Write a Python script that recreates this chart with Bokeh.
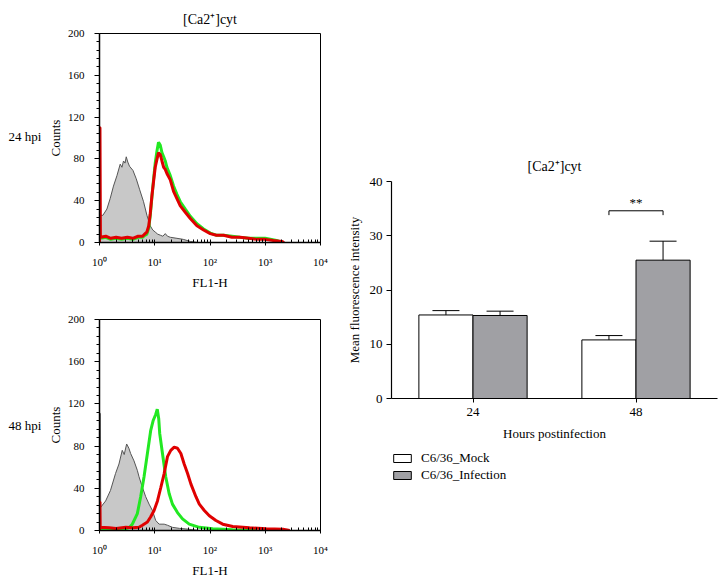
from bokeh.plotting import figure
from bokeh.models import (FixedTicker, Whisker, ColumnDataSource, FactorRange,
                          Legend, LegendItem, TeeHead, Range1d)
from bokeh.transform import dodge
from bokeh.layouts import row, column
from bokeh.embed import file_html
from bokeh.resources import INLINE
from bokeh.core.properties import value

# ---------------- data ----------------
# Histogram 24 hpi (FL1-H value, counts)
gray24_x = [1.0, 1.15, 1.36, 1.56, 1.79, 2.07, 2.37, 2.55, 2.72, 2.9, 3.05, 3.25, 3.49, 4.03, 4.62,
            5.3, 6.27, 7.22, 8.28, 9.2, 10.2, 11.3, 12.6, 14.0, 15.5, 17.0, 19.1, 25.2, 32.8, 44.0, 60.0]
gray24_y = [26, 26, 32, 42, 54, 64, 75, 72, 78, 76, 82, 77, 73, 69, 61,
            51, 39, 26, 16, 12, 10, 8, 7, 6, 8.5, 6, 5, 4, 3, 1, 0]

green24_x = [1.03, 1.3, 1.6, 2.0, 2.5, 3.2, 4.0, 5.0, 6.0, 6.7, 7.2, 7.8, 8.3, 8.9, 9.5, 10.2, 11.0,
             11.7, 12.6, 13.5, 14.5, 15.5, 16.6, 19.1, 21.9, 25.2, 29.0, 35.7, 44.0, 58.0, 76.5, 101,
             130, 176, 250, 350, 500, 700, 1000, 1300, 1600, 2000]
green24_y = [4, 5, 3, 4, 3, 4, 3, 5, 5, 7, 8, 14, 26, 44, 60, 76, 88,
             96, 93, 86, 82, 78, 72, 64, 54, 46, 39, 32, 25, 18, 13, 9,
             7, 7, 6, 5, 4, 4, 4, 3, 2, 0]

red24_x = [1.0, 1.0, 1.02, 1.04, 1.3, 1.6, 2.0, 2.5, 3.2, 4.0, 5.0, 6.0, 6.7, 7.2, 7.8, 8.3, 8.9, 9.5,
           10.2, 11.0, 11.7, 12.6, 13.5, 14.5, 15.5, 16.6, 19.1, 21.9, 25.2, 29.0, 35.7, 44.0, 58.0,
           76.5, 101, 130, 176, 250, 350, 500, 700, 1000, 1400, 2000, 2200]
red24_y = [0, 110, 110, 5, 6, 4, 5, 4, 5, 4, 6, 6, 8.5, 10, 16, 28, 45, 58,
           72, 80, 86, 84, 78, 72, 70, 66, 60, 49, 42, 35, 29, 23, 16,
           12, 8.5, 7, 7, 5, 5, 4, 3, 3, 2, 1, 0]

# Histogram 48 hpi
gray48_x = [1.0, 1.02, 1.035, 1.05, 1.29, 1.58, 1.95, 2.25, 2.58, 2.8, 3.1, 3.4, 3.66, 4.21, 4.84,
            5.19, 5.97, 6.86, 7.89, 9.07, 10.4, 12.0, 14.8, 17.0, 20.9, 28.0, 36.6, 64.0]
gray48_y = [111, 111, 111, 22, 28, 38, 54, 63, 76, 72, 82, 78, 73, 66, 57,
            51, 41, 32, 25, 19, 9.5, 6, 6, 5, 3, 2, 1.5, 0]

green48_x = [1.0, 1.03, 1.5, 2.0, 2.97, 3.5, 3.93, 4.84, 5.56, 6.4, 7.36, 8.46, 9.33, 10.4, 11.1,
             11.8, 12.3, 13.8, 15.8, 18.2, 20.9, 25.8, 31.8, 42.1, 64.0, 112, 258, 597, 700]
green48_y = [0, 2, 1.5, 2, 1.6, 3, 6, 16, 32, 51, 73, 95, 104, 110, 115,
             106, 92, 73, 51, 35, 25, 17, 11, 6, 3, 1.6, 0.6, 0.5, 0]

red48_x = [1.0, 1.0, 1.02, 1.03, 1.5, 2.0, 3.0, 4.0, 5.19, 5.97, 7.36, 8.46, 9.72, 11.2, 12.9, 14.8,
           17.0, 19.5, 22.5, 25.8, 29.7, 34.1, 39.3, 45.2, 55.6, 64.0, 78.9, 97.2, 128, 170, 258,
           519, 1043, 2095, 2770]
red48_y = [0, 27, 27, 3, 2.5, 2, 3, 2.5, 3, 5, 8, 13, 19, 28, 41, 54,
           70, 76, 79, 78, 73, 63, 54, 44, 32, 25, 19, 14, 9.5, 6, 3.8,
           2.5, 1.6, 1.3, 0]

row_labels = ["24 hpi", "48 hpi"]
row_label_counts = [101, 100]

# Bar chart
hours = ["24", "48"]
mock_mean = [15.4, 10.8]
mock_err = [0.8, 0.8]
inf_mean = [15.3, 25.5]
inf_err = [0.8, 3.5]
sig_hours = ["48"]
sig_level = [34.6]
sig_drop = [33.8]
sig_text = ["**"]
legend_labels = ["C6/36_Mock", "C6/36_Infection"]

# tick definitions
decades = [1, 10, 100, 1000, 10000]
decade_labels = ["10\u2070", "10\u00b9", "10\u00b2", "10\u00b3", "10\u2074"]
minor_x = [m * d for d in decades[:-1] for m in range(2, 10)]
count_ticks = [0, 40, 80, 120, 160, 200]
count_minor = [v for v in range(8, 200, 8) if v % 40 != 0]

FONT = "Liberation Serif"
TITLE = "[Ca2\u207a]cyt"
RED = "#e00000"
GREEN = "#22e822"
GRAYFILL = "#c8c8c8"
GRAYLINE = "#555555"
BARGRAY = "#a0a0a4"


def label_fig(height, btop, bbottom, text, count):
    q = figure(width=41, height=height, x_range=Range1d(0, 1), y_range=Range1d(0, 200),
               output_backend="svg", toolbar_location=None, title=None,
               min_border_left=0, min_border_right=0,
               min_border_top=btop, min_border_bottom=bbottom)
    q.axis.visible = False
    q.grid.visible = False
    q.outline_line_color = None
    q.text(x=[0], y=[count], text=[text], x_offset=8, text_font=value(FONT),
           text_font_size="13px", text_baseline="middle", text_align="left", text_color="black")
    return q


def hist_fig(height, btop, bbottom, title):
    p = figure(width=299, height=height, x_axis_type="log",
               x_range=Range1d(1, 10000), y_range=Range1d(0, 200),
               output_backend="svg", toolbar_location=None,
               min_border_left=58, min_border_right=20,
               min_border_top=btop, min_border_bottom=bbottom,
               title=title)
    if title is not None:
        p.title.align = "center"
        p.title.text_font = FONT
        p.title.text_font_style = "normal"
        p.title.text_font_size = "14px"
        p.title.text_color = "black"
        p.title.standoff = 14
    p.grid.visible = False
    p.outline_line_color = "black"
    p.outline_line_width = 1
    p.xaxis.ticker = FixedTicker(ticks=decades, minor_ticks=minor_x)
    p.xaxis.major_label_overrides = {d: lab for d, lab in zip(decades, decade_labels)}
    p.yaxis.ticker = FixedTicker(ticks=count_ticks, minor_ticks=count_minor)
    for ax in (p.xaxis[0], p.yaxis[0]):
        ax.axis_line_width = 1.5
        ax.axis_line_color = "black"
        ax.major_tick_line_color = "black"
        ax.minor_tick_line_color = "black"
        ax.major_label_text_font = FONT
        ax.major_label_text_font_size = "11px"
        ax.major_label_text_color = "black"
        ax.axis_label_text_font = FONT
        ax.axis_label_text_font_style = "normal"
        ax.axis_label_text_font_size = "13px"
        ax.axis_label_text_color = "black"
    p.xaxis.axis_label = "FL1-H"
    p.yaxis.axis_label = "Counts"
    p.xaxis.major_tick_in = 3
    p.xaxis.major_tick_out = 3
    p.xaxis.minor_tick_in = 3
    p.xaxis.minor_tick_out = 0
    p.xaxis.major_label_standoff = 10
    p.xaxis.axis_label_standoff = 4
    p.yaxis.major_tick_in = 0
    p.yaxis.major_tick_out = 5
    p.yaxis.minor_tick_in = 0
    p.yaxis.minor_tick_out = 3
    p.yaxis.major_label_standoff = 10
    p.yaxis.axis_label_standoff = 2
    return p


def draw_hist(p, gx, gy, grx, gry, rx, ry):
    p.varea(x=gx, y1=[0] * len(gx), y2=gy, fill_color=GRAYFILL)
    p.line(gx, gy, line_color=GRAYLINE, line_width=1)
    p.line(grx, gry, line_color=GREEN, line_width=3)
    p.line(rx, ry, line_color=RED, line_width=3)


p1 = hist_fig(292, 33, 49, TITLE)
draw_hist(p1, gray24_x, gray24_y, green24_x, green24_y, red24_x, red24_y)
l1 = label_fig(292, 33, 49, row_labels[0], row_label_counts[0])

p2 = hist_fig(290, 27, 52, None)
draw_hist(p2, gray48_x, gray48_y, green48_x, green48_y, red48_x, red48_y)
l2 = label_fig(290, 27, 52, row_labels[1], row_label_counts[1])

# ---------------- bar chart ----------------
src = ColumnDataSource(dict(
    hours=hours, mock=mock_mean, inf=inf_mean,
    mock_up=[m + e for m, e in zip(mock_mean, mock_err)],
    inf_up=[m + e for m, e in zip(inf_mean, inf_err)],
))
sig_src = ColumnDataSource(dict(hours=sig_hours, level=sig_level, drop=sig_drop, text=sig_text))

p3 = figure(width=380, height=447, x_range=FactorRange(factors=hours, range_padding=0),
            y_range=Range1d(0, 40), output_backend="svg", toolbar_location=None,
            min_border_left=51, min_border_right=3, min_border_top=181, min_border_bottom=49,
            title=TITLE)
p3.title.align = "center"
p3.title.text_font = FONT
p3.title.text_font_style = "normal"
p3.title.text_font_size = "14px"
p3.title.text_color = "black"
p3.title.standoff = 16
p3.grid.visible = False
p3.outline_line_color = None

half = 0.166
bw = 0.332
p3.vbar(x=dodge("hours", -half, range=p3.x_range), top="mock", width=bw, source=src,
        fill_color="white", line_color="black", line_width=1)
p3.vbar(x=dodge("hours", half, range=p3.x_range), top="inf", width=bw, source=src,
        fill_color=BARGRAY, line_color="black", line_width=1)

for off, up, low in ((-half, "mock_up", "mock"), (half, "inf_up", "inf")):
    p3.add_layout(Whisker(base=dodge("hours", off, range=p3.x_range), upper=up, lower=low,
                          source=src, line_color="black", line_width=1,
                          upper_head=TeeHead(size=27, line_color="black", line_width=1),
                          lower_head=None))

p3.segment(x0=dodge("hours", -half, range=p3.x_range), x1=dodge("hours", half, range=p3.x_range),
           y0="level", y1="level", source=sig_src, line_color="black", line_width=1)
for off in (-half, half):
    p3.segment(x0=dodge("hours", off, range=p3.x_range), x1=dodge("hours", off, range=p3.x_range),
               y0="level", y1="drop", source=sig_src, line_color="black", line_width=1)
p3.text(x="hours", y="level", text="text", source=sig_src, text_font=value(FONT),
        text_font_size="13px", text_align="center", text_baseline="bottom", y_offset=-1,
        text_color="black")

p3.yaxis.ticker = FixedTicker(ticks=[0, 10, 20, 30, 40])
for ax in (p3.xaxis[0], p3.yaxis[0]):
    ax.axis_line_width = 1.2
    ax.axis_line_color = "black"
    ax.major_tick_line_color = "black"
    ax.major_label_text_font = FONT
    ax.major_label_text_font_size = "13px"
    ax.major_label_text_color = "black"
    ax.axis_label_text_font = FONT
    ax.axis_label_text_font_style = "normal"
    ax.axis_label_text_font_size = "13px"
    ax.axis_label_text_color = "black"
    ax.minor_tick_line_color = None
p3.xaxis.axis_label = "Hours postinfection"
p3.yaxis.axis_label = "Mean fluorescence intensity"
p3.xaxis.major_tick_in = 0
p3.xaxis.major_tick_out = 4
p3.xaxis.major_label_standoff = 5
p3.xaxis.axis_label_standoff = 7
p3.yaxis.major_tick_in = 0
p3.yaxis.major_tick_out = 5
p3.yaxis.major_label_standoff = 4
p3.yaxis.axis_label_standoff = 5

# legend strip below the bar chart: key-only bars of zero size (nothing visible is drawn)
key_src = ColumnDataSource(dict(x=[0.5], top=[0.5], bottom=[0.5]))
lg = figure(width=380, height=45, x_range=Range1d(0, 1), y_range=Range1d(0, 1),
            output_backend="svg", toolbar_location=None, title=None,
            min_border_left=51, min_border_right=3, min_border_top=3, min_border_bottom=0)
lg.axis.visible = False
lg.grid.visible = False
lg.outline_line_color = None
k_mock = lg.vbar(x="x", top="top", bottom="bottom", width=0, source=key_src,
                 fill_color="white", line_color="black", line_width=1)
k_inf = lg.vbar(x="x", top="top", bottom="bottom", width=0, source=key_src,
                fill_color=BARGRAY, line_color="black", line_width=1)
legend = Legend(items=[LegendItem(label=legend_labels[0], renderers=[k_mock]),
                       LegendItem(label=legend_labels[1], renderers=[k_inf])],
                location="top_left", orientation="vertical", margin=0, padding=0,
                glyph_width=22, glyph_height=10, label_standoff=8, spacing=1, label_height=10,
                label_text_font=FONT, label_text_font_size="13px", label_text_color="black",
                border_line_color=None, background_fill_alpha=0)
lg.add_layout(legend)

layout = row(column(row(l1, p1), row(l2, p2)), column(p3, lg))
open("out.html", "w").write(file_html(layout, INLINE))
